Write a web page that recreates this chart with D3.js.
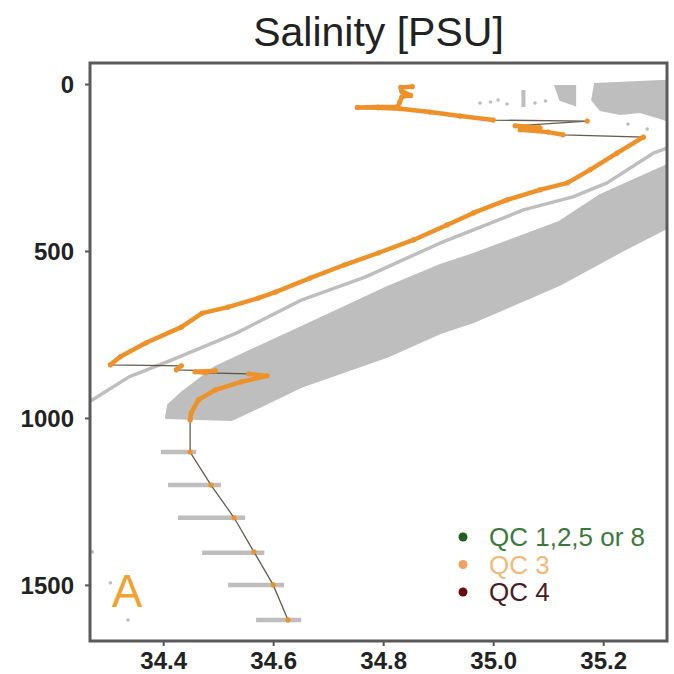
<!DOCTYPE html>
<html>
<head>
<meta charset="utf-8">
<script src="https://cdnjs.cloudflare.com/ajax/libs/d3/7.8.5/d3.min.js"></script>
<style>
  body { margin: 0; background: #fff; }
  svg text { font-family: "Liberation Sans", Arial, sans-serif; }
</style>
</head>
<body>
<div id="chart"></div>
<script>
// tick values
const salTicks = [34.4, 34.6, 34.8, 35.0, 35.2];
const depthTicks = [0, 500, 1000, 1500];

// QC 3 profile (orange), ordered by depth
const profileSal = [34.853, 34.832, 34.834, 34.850, 34.834, 34.830, 34.826, 34.790, 34.753, 34.790, 34.831,
  34.885, 34.940, 35.000, 35.171, 35.040, 35.085, 35.049, 35.100, 35.127, 35.273,
  35.225, 35.176, 35.135, 35.085, 35.025, 34.964, 34.916, 34.855, 34.791, 34.729,
  34.667, 34.604, 34.573, 34.518, 34.471, 34.433, 34.369, 34.322, 34.304,
  34.433, 34.424, 34.495, 34.458, 34.478, 34.556, 34.589, 34.542, 34.495, 34.464, 34.451, 34.449,
  34.449, 34.487, 34.529, 34.565, 34.600, 34.627];
const profileDepth = [8, 10, 22, 34, 38, 55, 68, 69, 70, 71, 74,
  84, 96, 108, 111, 125, 131, 137, 144, 152, 159,
  207, 257, 296, 317, 347, 386, 422, 467, 506, 542,
  581, 623, 641, 668, 686, 728, 775, 817, 841,
  844, 856, 859, 862, 865, 868, 874, 892, 916, 946, 985, 1006,
  1102, 1201, 1299, 1401, 1500, 1605];

// neighbouring profile (gray thin line)
const refSal = [35.316, 35.291, 35.207, 35.145, 35.055, 34.964, 34.904, 34.767, 34.651, 34.533, 34.416, 34.338, 34.271, 34.249];
const refDepth = [192, 207, 296, 338, 377, 437, 476, 578, 647, 746, 826, 877, 946, 961];

// envelope of the reference cloud (gray band)
const bandSal = [35.34, 35.316, 35.195, 35.12, 34.964, 34.904, 34.807, 34.729, 34.651, 34.573, 34.495, 34.433, 34.409, 34.405,
  34.525, 34.595, 34.651, 34.807, 34.904, 34.964, 35.12, 35.231, 35.316, 35.34];
const bandDepth = [228, 243, 332, 413, 509, 542, 608, 668, 728, 787, 847, 925, 961, 1000,
  1006, 952, 907, 817, 746, 713, 602, 503, 431, 413];

// surface reference cloud
const surfSal = [35.185, 35.34, 35.34, 35.304, 35.267, 35.231, 35.195, 35.180];
const surfDepth = [0, -12, 123, 102, 84, 90, 78, 48];
const surf2Sal = [35.113, 35.149, 35.149, 35.122];
const surf2Depth = [6, 6, 63, 48];
const surfStrokeSal = [35.055, 35.055];
const surfStrokeDepth = [18, 69];
const dotSal = [34.976, 34.995, 35.009, 35.025, 35.076, 35.095, 35.245, 35.280, 34.271, 34.304, 34.336];
const dotDepth = [57, 54, 48, 60, 57, 51, 120, 135, 1401, 1494, 1605];

// deep reference spread (min / max salinity per level)
const deepDepth = [1102, 1201, 1299, 1404, 1500, 1605];
const deepMin = [34.396, 34.409, 34.427, 34.471, 34.518, 34.569];
const deepMax = [34.460, 34.505, 34.549, 34.584, 34.620, 34.651];

// legend
const legendLabels = ["QC 1,2,5 or 8", "QC 3", "QC 4"];
const legendDot = ["#1f5f1f", "#f2a060", "#6a0d12"];
const legendText = ["#3c7a3c", "#f5b878", "#4f1a1e"];

const W = 674, H = 674;
const margin = { left: 90, right: 7, top: 63, bottom: 33 };
const orange = "#ee9128";
const gray = "#bebebe";

const svg = d3.select("#chart").append("svg")
  .attr("width", W).attr("height", H);

const x = d3.scaleLinear().domain([34.267, 35.316]).range([margin.left, W - margin.right]);
const y = d3.scaleLinear().domain([-63, 1668]).range([margin.top, H - margin.bottom]);

svg.append("defs").append("clipPath").attr("id", "plot-clip")
  .append("rect")
  .attr("x", margin.left).attr("y", margin.top)
  .attr("width", W - margin.left - margin.right)
  .attr("height", H - margin.top - margin.bottom);

const plot = svg.append("g").attr("clip-path", "url(#plot-clip)");

const zip = (s, d) => s.map((v, i) => [v, d[i]]);
const line = d3.line().x(p => x(p[0])).y(p => y(p[1]));

// gray reference cloud
plot.append("path").attr("d", line(zip(bandSal, bandDepth)) + "Z")
  .attr("fill", gray).attr("stroke", gray).attr("stroke-width", 2).attr("stroke-linejoin", "round");
plot.append("path").attr("d", line(zip(surfSal, surfDepth)) + "Z")
  .attr("fill", gray).attr("stroke", gray).attr("stroke-width", 2);
plot.append("path").attr("d", line(zip(surf2Sal, surf2Depth)) + "Z")
  .attr("fill", gray).attr("stroke", gray).attr("stroke-width", 2);
plot.append("path").attr("d", line(zip(surfStrokeSal, surfStrokeDepth)))
  .attr("fill", "none").attr("stroke", gray).attr("stroke-width", 4);
plot.append("path").attr("d", line(zip(refSal, refDepth)))
  .attr("fill", "none").attr("stroke", gray).attr("stroke-width", 3.5).attr("stroke-linejoin", "round");

plot.selectAll(".deep").data(deepDepth).join("line")
  .attr("x1", (d, i) => x(deepMin[i])).attr("x2", (d, i) => x(deepMax[i]))
  .attr("y1", d => y(d)).attr("y2", d => y(d))
  .attr("stroke", gray).attr("stroke-width", 4.5);

plot.selectAll(".gdot").data(dotSal).join("circle")
  .attr("cx", d => x(d)).attr("cy", (d, i) => y(dotDepth[i]))
  .attr("r", 1.8).attr("fill", gray);

// profile: thin connector, thick orange where samples are close
const prof = zip(profileSal, profileDepth);
plot.append("path").attr("d", line(prof))
  .attr("fill", "none").attr("stroke", "#4a3f33").attr("stroke-width", 1.3).attr("opacity", 0.85);

const segs = [];
let cur = [prof[0]];
for (let i = 1; i < prof.length; i++) {
  const a = prof[i - 1], b = prof[i];
  if (Math.abs(b[0] - a[0]) < 0.07 && Math.abs(b[1] - a[1]) < 60) {
    cur.push(b);
  } else {
    segs.push(cur);
    cur = [b];
  }
}
segs.push(cur);

plot.selectAll(".oseg").data(segs.filter(s => s.length > 1)).join("path")
  .attr("d", s => line(s))
  .attr("fill", "none").attr("stroke", orange).attr("stroke-width", 4.5)
  .attr("stroke-linejoin", "round").attr("stroke-linecap", "round");

plot.selectAll(".odot").data(prof).join("circle")
  .attr("cx", p => x(p[0])).attr("cy", p => y(p[1]))
  .attr("r", 2.6).attr("fill", orange);

// axes
const xAxis = d3.axisBottom(x).tickValues(salTicks).tickFormat(d3.format(".1f"))
  .tickSize(5).tickPadding(6);
const yAxis = d3.axisLeft(y).tickValues(depthTicks).tickFormat(d3.format("d"))
  .tickSize(5).tickPadding(11);

const gX = svg.append("g").attr("transform", `translate(0,${H - margin.bottom})`).call(xAxis);
const gY = svg.append("g").attr("transform", `translate(${margin.left},0)`).call(yAxis);

[gX, gY].forEach(g => {
  g.select(".domain").remove();
  g.selectAll(".tick line").attr("stroke", "#555").attr("stroke-width", 2);
  g.selectAll(".tick text")
    .attr("fill", "#222").style("font-size", "24px").style("font-weight", "bold");
});
gY.selectAll(".tick text").attr("dy", "0.36em");

// frame
svg.append("rect")
  .attr("x", margin.left).attr("y", margin.top)
  .attr("width", W - margin.left - margin.right)
  .attr("height", H - margin.top - margin.bottom)
  .attr("fill", "none").attr("stroke", "#5a5a5a").attr("stroke-width", 3);

// title
svg.append("text")
  .attr("x", (margin.left + W - margin.right) / 2).attr("y", 46)
  .attr("text-anchor", "middle").attr("fill", "#222")
  .style("font-size", "41px")
  .text("Salinity [PSU]");

// panel letter
svg.append("text")
  .attr("x", 127).attr("y", 607).attr("text-anchor", "middle")
  .attr("fill", "#f0a232").style("font-size", "46px")
  .text("A");

// legend
const leg = svg.append("g");
leg.selectAll("circle").data(legendLabels).join("circle")
  .attr("cx", 463).attr("cy", (d, i) => 537 + i * 27.5)
  .attr("r", 4.5).attr("fill", (d, i) => legendDot[i]);
leg.selectAll("text").data(legendLabels).join("text")
  .attr("x", 489).attr("y", (d, i) => 537 + i * 27.5).attr("dy", "0.36em")
  .attr("fill", (d, i) => legendText[i]).style("font-size", "26px")
  .text(d => d);
</script>
</body>
</html>
